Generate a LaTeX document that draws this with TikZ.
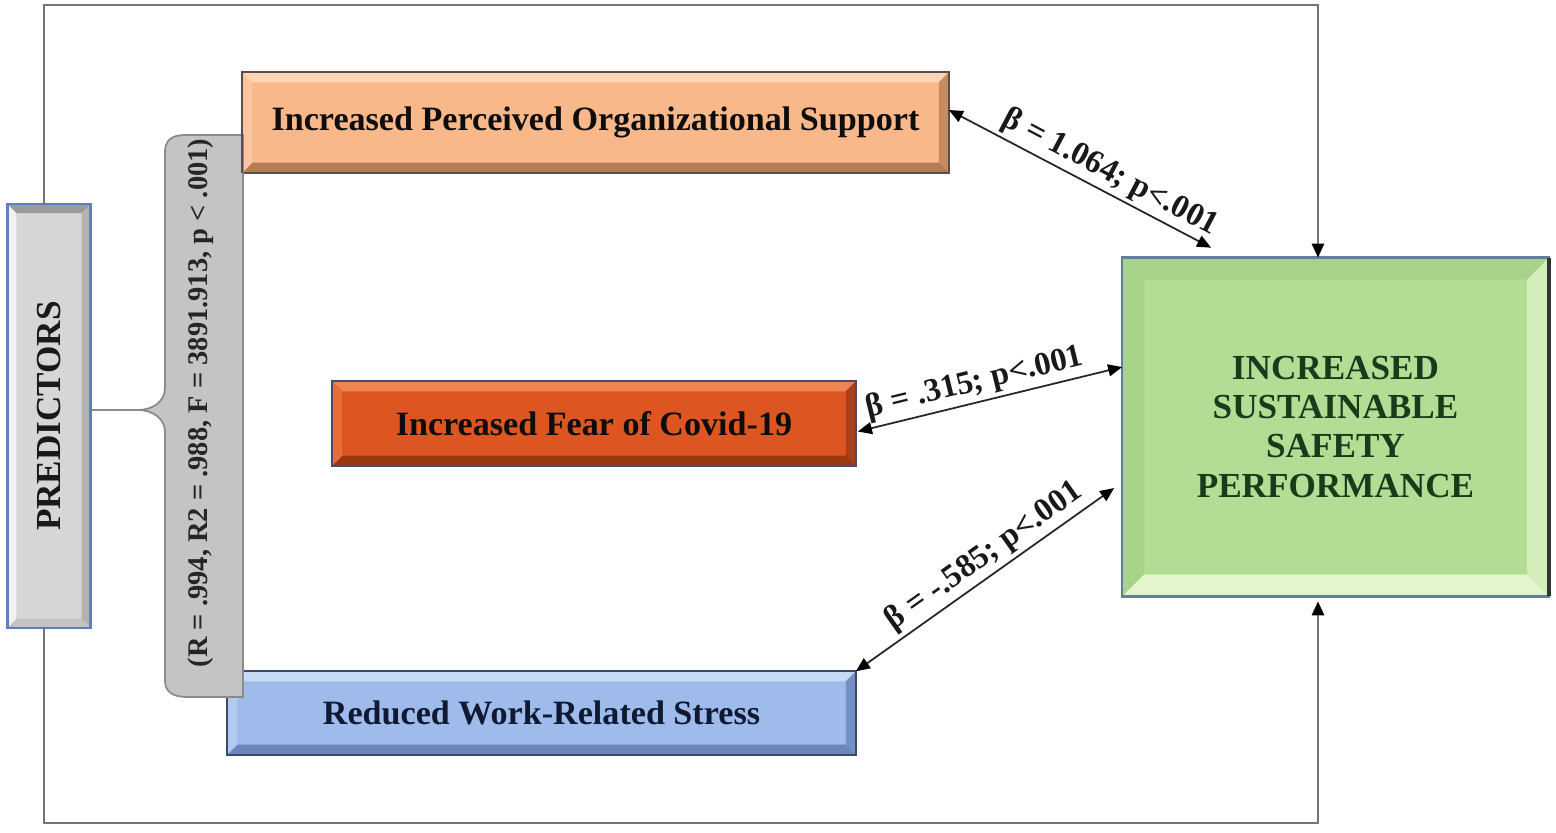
\documentclass[tikz,border=0pt]{standalone}
\usepackage{fontspec}
\setmainfont{Liberation Serif}
\usetikzlibrary{arrows.meta,calc}
\definecolor{frameC}{HTML}{747474}
\definecolor{orBase}{HTML}{F8B88A}
\definecolor{orTop}{HTML}{FCD6B6}
\definecolor{orLeft}{HTML}{F9C6A0}
\definecolor{orRight}{HTML}{C98A62}
\definecolor{orBot}{HTML}{B87A55}
\definecolor{orBord}{HTML}{5B4D4D}
\definecolor{cvBase}{HTML}{DD5520}
\definecolor{cvTop}{HTML}{EE8452}
\definecolor{cvLeft}{HTML}{E66C38}
\definecolor{cvRight}{HTML}{A8401A}
\definecolor{cvBot}{HTML}{9A3812}
\definecolor{cvBord}{HTML}{4A4A6A}
\definecolor{blBase}{HTML}{9EBBEB}
\definecolor{blTop}{HTML}{C8DAF7}
\definecolor{blLeft}{HTML}{B3CAF0}
\definecolor{blRight}{HTML}{7390C4}
\definecolor{blBot}{HTML}{6A86BA}
\definecolor{blBord}{HTML}{3B4A6B}
\definecolor{gnBase}{HTML}{B3DD94}
\definecolor{gnTop}{HTML}{A8D28A}
\definecolor{gnLeft}{HTML}{A8D48A}
\definecolor{gnRight}{HTML}{D3EDBB}
\definecolor{gnBot}{HTML}{E2F5CC}
\definecolor{gnBord}{HTML}{5F7F9A}
\definecolor{gnText}{HTML}{1B3A1B}
\definecolor{prBase}{HTML}{D6D6D6}
\definecolor{prTop}{HTML}{9A9A9A}
\definecolor{prLeft}{HTML}{F2F2F2}
\definecolor{prRight}{HTML}{B2B2B2}
\definecolor{prBot}{HTML}{C2C2C2}
\definecolor{prBord}{HTML}{5B7FC0}
\definecolor{brFill}{HTML}{C4C4C4}
\definecolor{brLine}{HTML}{8A8A8A}
\newcommand\bevbox[6]{%
  \fill[#3] (#1.north west) -- (#1.north east) -- ([shift={(-#2,#2)}]#1.north east) -- ([shift={(#2,#2)}]#1.north west) -- cycle;
  \fill[#4] (#1.north east) -- (#1.south east) -- ([shift={(-#2,-#2)}]#1.south east) -- ([shift={(-#2,#2)}]#1.north east) -- cycle;
  \fill[#5] (#1.south east) -- (#1.south west) -- ([shift={(#2,-#2)}]#1.south west) -- ([shift={(-#2,-#2)}]#1.south east) -- cycle;
  \fill[#6] (#1.south west) -- (#1.north west) -- ([shift={(#2,#2)}]#1.north west) -- ([shift={(#2,-#2)}]#1.south west) -- cycle;
}
\begin{document}
\begin{tikzpicture}[x=0.01cm,y=-0.01cm,
  box/.style={rectangle,inner sep=0pt,font=\fontsize{9.7}{11}\selectfont\bfseries},
  frame/.style={draw=frameC,line width=0.8pt},
  arr/.style={draw=black!85,line width=0.5pt,{Triangle[length=4pt,width=3.4pt,color=black]}-{Triangle[length=4pt,width=3.4pt,color=black]}},
  lab/.style={sloped,above,inner sep=1pt,font=\fontsize{9.3}{10}\selectfont\bfseries,text=black!90},
  tipend/.style={-{Triangle[length=4pt,width=3.4pt,color=black]}}
]
\useasboundingbox[fill=white] (0,0) rectangle (1556,833);

% frame corners
\coordinate (tl) at (44,5);
\coordinate (tr) at (1318,5);
\coordinate (bl) at (44,823);
\coordinate (br) at (1318,823);

% nodes
\node[box,fill=orBase,minimum width=7.05cm,minimum height=0.99cm,text=black!95] (org) at (595.5,122.5) {Increased Perceived Organizational Support};
\bevbox{org}{10}{orTop}{orRight}{orBot}{orLeft}
\draw[orBord,line width=0.6pt] (org.north west) rectangle (org.south east);

\node[box,fill=cvBase,minimum width=5.22cm,minimum height=0.83cm,text=black!95] (fear) at (594,423.5) {Increased Fear of Covid-19};
\bevbox{fear}{10}{cvTop}{cvRight}{cvBot}{cvLeft}
\draw[cvBord,line width=0.6pt] (fear.north west) rectangle (fear.south east);

\node[box,fill=blBase,minimum width=6.27cm,minimum height=0.82cm,text={rgb,255:red,15;green,25;blue,50}] (stress) at (541.5,713) {Reduced Work-Related Stress};
\bevbox{stress}{10}{blTop}{blRight}{blBot}{blLeft}
\draw[blBord,line width=0.6pt] (stress.north west) rectangle (stress.south east);

\node[box,fill=gnBase,minimum width=4.25cm,minimum height=3.37cm] (green) at (1335.5,427) {};
\bevbox{green}{22}{gnTop}{gnRight}{gnBot}{gnLeft}
\draw[gnBord,line width=0.7pt] (green.north west) rectangle (green.south east);
\draw[black!80,line width=1pt] (green.north east) -- (green.south east);
\node[align=center,text=gnText,font=\fontsize{10}{11.1}\selectfont\bfseries] (gtext) at (green.center) {INCREASED\\SUSTAINABLE\\SAFETY\\PERFORMANCE};

\node[box,fill=prBase,minimum width=0.82cm,minimum height=4.22cm] (pred) at (49,416) {};
\bevbox{pred}{9}{prTop}{prRight}{prBot}{prLeft}
\draw[prBord,line width=0.7pt] (pred.north west) rectangle (pred.south east);
\node[rotate=90,text=black!90,font=\fontsize{10}{11}\selectfont\bfseries] (ptext) at (pred.center) {PREDICTORS};

% brace
\coordinate (bt) at (138,410);
\filldraw[fill=brFill,draw=brLine,line width=0.5pt]
  (243,135) -- (185,135) .. controls (171,135) and (165,141) .. (165,152)
  -- (165,388) .. controls (165,402) and (152,410) .. (bt)
  .. controls (152,410) and (165,418) .. (165,432)
  -- (165,680) .. controls (165,691) and (171,697) .. (188,697)
  -- (243,697) -- cycle;
\draw[brLine,line width=0.7pt] (pred.east |- bt) -- (bt);
\node[rotate=90,font=\fontsize{8.1}{10}\selectfont\bfseries,text=black!85] (stats) at (201,403) {(R = .994, R2 = .988, F = 3891.913, p < .001)};
\draw[orBord,line width=0.6pt] (org.north west) -- (org.south west);

% frame connectors
\draw[frame,tipend] ([xshift=-0.05cm]pred.north) -- ([xshift=-0.05cm]pred.north |- tl) -- (tr) -- (tr |- green.north);
\draw[frame,tipend] ([xshift=-0.05cm]pred.south) -- ([xshift=-0.05cm]pred.south |- bl) -- (br) -- ([yshift=-0.05cm]br |- green.south);

% regression arrows
\draw[arr] ([yshift=0.125cm]org.east) -- node[lab,pos=0.58] (l1) {β = 1.064; p<.001} ([shift={(89,-10)}]green.north west);
\draw[arr] ([shift={(2,8)}]fear.east) -- node[lab,pos=0.46] (l2) {β = .315; p<.001} ([shift={(0,-60)}]green.west);
\draw[arr] (stress.north east) -- node[lab,pos=0.54] (l3) {β = -.585; p<.001} ([shift={(-8,61)}]green.west);
\end{tikzpicture}
\end{document}
